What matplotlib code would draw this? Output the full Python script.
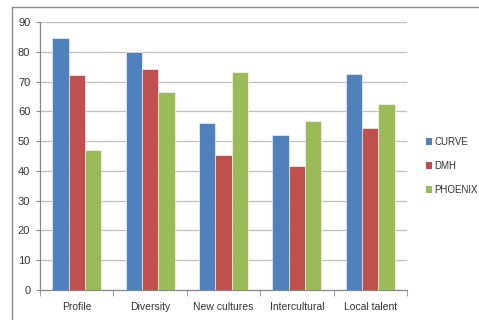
import numpy as np
import matplotlib
matplotlib.use("Agg")
import matplotlib.pyplot as plt
from matplotlib.lines import Line2D
from matplotlib.patches import Patch

categories = ["Profile", "Diversity", "New cultures", "Intercultural", "Local talent"]
series_names = ["CURVE", "DMH", "PHOENIX"]
curve = [84.6, 79.9, 56.0, 52.1, 72.4]
dmh = [72.1, 74.3, 45.5, 41.6, 54.5]
phoenix = [47.0, 66.4, 73.3, 56.7, 62.6]
colors = ["#4F81BD", "#C0504D", "#9BBB59"]

plt.rcParams["font.family"] = ["Liberation Sans", "DejaVu Sans"]

fig = plt.figure(figsize=(4.79, 3.2), dpi=100)
ax = fig.add_axes([40 / 479, 1 - 290 / 320, 367 / 479, 268 / 320])

x = np.arange(len(categories))
w = 1 / 4.5
for i, (vals, c) in enumerate(zip([curve, dmh, phoenix], colors)):
    ax.bar(x + (i - 1) * w, vals, width=w, color=c, edgecolor="white", linewidth=0.4, zorder=3)

ax.set_xlim(-0.5, len(categories) - 0.5)
ax.set_ylim(0, 90)
ax.set_yticks(range(0, 91, 10))
ax.yaxis.grid(True, color="#BEBEBE", linewidth=0.9, zorder=0)

ax.set_xticks(x)
ax.set_xticklabels(categories, fontsize=7.5, color="#333333")
ax.set_xticks(np.arange(-0.5, len(categories)), minor=True)
ax.tick_params(axis="x", which="major", length=0, pad=9)
ax.tick_params(axis="x", which="minor", length=4, color="#888888", direction="out")
ax.tick_params(axis="y", length=3, color="#888888", labelsize=8, labelcolor="#333333", pad=4)

for s in ["top", "right"]:
    ax.spines[s].set_visible(False)
for s in ["left", "bottom"]:
    ax.spines[s].set_color("#888888")
    ax.spines[s].set_linewidth(0.9)

handles = [Patch(facecolor=c, edgecolor="none") for c in colors]
fig.legend(handles, series_names, loc="upper left", bbox_to_anchor=(421 / 479, 1 - 132 / 320),
           frameon=False, fontsize=7, handlelength=0.65, handleheight=0.65,
           handletextpad=0.25, labelspacing=1.45, borderpad=0, labelcolor="#333333")

# chart frame (cropped)
fig.add_artist(Line2D([11.5 / 479, 11.5 / 479], [0, 1 - 6.5 / 320], color="#8C8C8C", linewidth=1.0))
fig.add_artist(Line2D([11.5 / 479, 1], [1 - 6.5 / 320, 1 - 6.5 / 320], color="#8C8C8C", linewidth=1.0))

fig.savefig("out.png", dpi=100)
